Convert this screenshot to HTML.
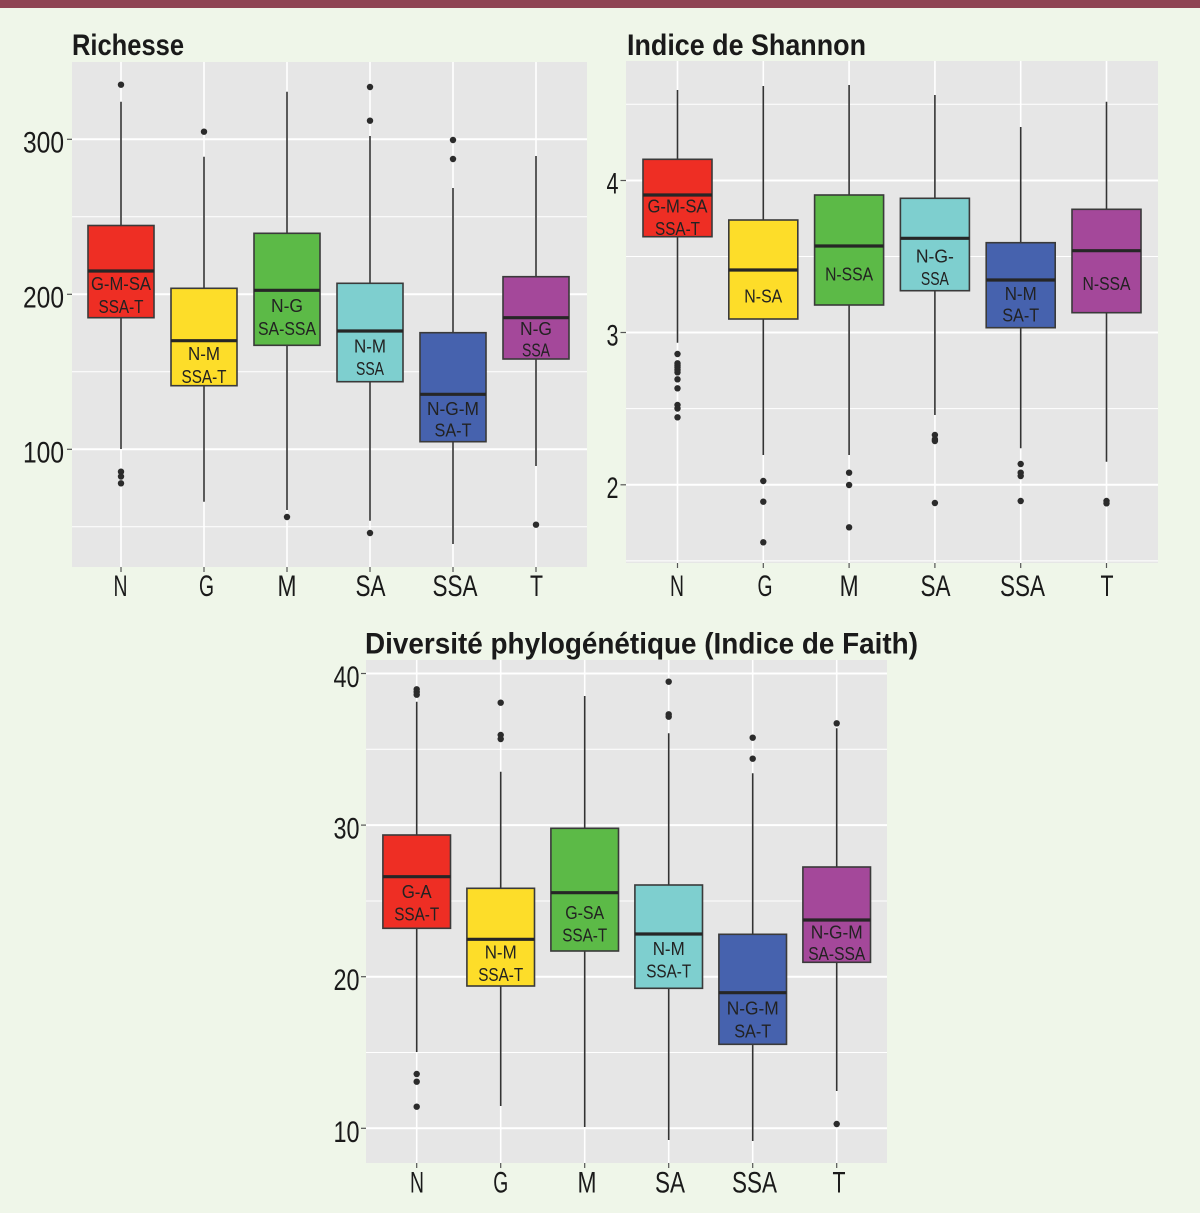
<!DOCTYPE html>
<html>
<head>
<meta charset="utf-8">
<style>
html,body{margin:0;padding:0;background:#eff6e9;}
svg{display:block;}
.wh{stroke:#333;stroke-width:1.6;}
.bx{stroke:#3a3a3a;stroke-width:1.6;}
.md{stroke:#262626;stroke-width:3.2;}
.gM{stroke:#fff;stroke-width:2;}
.gm{stroke:#fff;stroke-width:1;}
.gv{stroke:#fff;stroke-width:1.6;}
.tk{stroke:#555;stroke-width:1.2;}
.pt{fill:#2b2b2b;}
.bl{font-family:"Liberation Sans",sans-serif;font-size:18px;fill:#222;text-anchor:middle;}
.ax{font-family:"Liberation Sans",sans-serif;font-size:30px;fill:#1a1a1a;}
.axm{font-family:"Liberation Sans",sans-serif;font-size:30px;fill:#1a1a1a;text-anchor:middle;}
.ay{font-family:"Liberation Sans",sans-serif;font-size:30px;fill:#1a1a1a;text-anchor:end;}
.tt{font-family:"Liberation Sans",sans-serif;font-weight:bold;font-size:30px;fill:#1a1a1a;}
</style>
</head>
<body>
<svg width="1200" height="1213" viewBox="0 0 1200 1213" xmlns="http://www.w3.org/2000/svg">
<rect x="0" y="0" width="1200" height="1213" fill="#eff6e9"/>
<rect x="0" y="0" width="1200" height="8" fill="#8e4453"/>

<!-- ================= PANEL 1 : Richesse ================= -->
<text class="tt" x="72" y="55" textLength="112" lengthAdjust="spacingAndGlyphs">Richesse</text>
<rect x="72" y="62" width="515" height="505" fill="#e6e6e6"/>
<line class="gm" x1="72" x2="587" y1="216.8" y2="216.8"/>
<line class="gm" x1="72" x2="587" y1="371.8" y2="371.8"/>
<line class="gm" x1="72" x2="587" y1="526.8" y2="526.8"/>
<line class="gM" x1="72" x2="587" y1="139.3" y2="139.3"/>
<line class="gM" x1="72" x2="587" y1="294.3" y2="294.3"/>
<line class="gM" x1="72" x2="587" y1="449.3" y2="449.3"/>
<line class="gv" x1="121" x2="121" y1="62" y2="567"/>
<line class="gv" x1="204" x2="204" y1="62" y2="567"/>
<line class="gv" x1="287" x2="287" y1="62" y2="567"/>
<line class="gv" x1="370" x2="370" y1="62" y2="567"/>
<line class="gv" x1="453" x2="453" y1="62" y2="567"/>
<line class="gv" x1="536" x2="536" y1="62" y2="567"/>

<line class="wh" x1="121" x2="121" y1="101.7" y2="449"/>
<line class="wh" x1="204" x2="204" y1="156.7" y2="501.7"/>
<line class="wh" x1="287" x2="287" y1="91.7" y2="510"/>
<line class="wh" x1="370" x2="370" y1="136" y2="520.7"/>
<line class="wh" x1="453" x2="453" y1="188" y2="544"/>
<line class="wh" x1="536" x2="536" y1="156" y2="466"/>
<rect class="bx" x="88" y="225.5" width="66" height="92.2" fill="#ee2e24"/>
<rect class="bx" x="171" y="288.3" width="66" height="97.4" fill="#fddd29"/>
<rect class="bx" x="254" y="233.3" width="66" height="112" fill="#5cba47"/>
<rect class="bx" x="337" y="283.3" width="66" height="98.4" fill="#7ecfcf"/>
<rect class="bx" x="420" y="332.7" width="66" height="109" fill="#4662ae"/>
<rect class="bx" x="503" y="276.7" width="66" height="82.3" fill="#a4489a"/>
<line class="md" x1="88" x2="154" y1="271" y2="271"/>
<line class="md" x1="171" x2="237" y1="340.7" y2="340.7"/>
<line class="md" x1="254" x2="320" y1="290.3" y2="290.3"/>
<line class="md" x1="337" x2="403" y1="331" y2="331"/>
<line class="md" x1="420" x2="486" y1="394.3" y2="394.3"/>
<line class="md" x1="503" x2="569" y1="317.7" y2="317.7"/>
<text class="bl" x="121" y="290" textLength="60" lengthAdjust="spacingAndGlyphs">G-M-SA</text>
<text class="bl" x="121" y="313" textLength="45" lengthAdjust="spacingAndGlyphs">SSA-T</text>
<text class="bl" x="204" y="360" textLength="32" lengthAdjust="spacingAndGlyphs">N-M</text>
<text class="bl" x="204" y="383" textLength="45" lengthAdjust="spacingAndGlyphs">SSA-T</text>
<text class="bl" x="287" y="312" textLength="32" lengthAdjust="spacingAndGlyphs">N-G</text>
<text class="bl" x="287" y="335" textLength="58" lengthAdjust="spacingAndGlyphs">SA-SSA</text>
<text class="bl" x="370" y="352.7" textLength="32" lengthAdjust="spacingAndGlyphs">N-M</text>
<text class="bl" x="370" y="375" textLength="28" lengthAdjust="spacingAndGlyphs">SSA</text>
<text class="bl" x="453" y="415" textLength="52" lengthAdjust="spacingAndGlyphs">N-G-M</text>
<text class="bl" x="453" y="436.7" textLength="37" lengthAdjust="spacingAndGlyphs">SA-T</text>
<text class="bl" x="536" y="335" textLength="32" lengthAdjust="spacingAndGlyphs">N-G</text>
<text class="bl" x="536" y="356.7" textLength="28" lengthAdjust="spacingAndGlyphs">SSA</text>
<circle class="pt" cx="121" cy="84.7" r="3.2"/>
<circle class="pt" cx="121" cy="471.7" r="3.2"/>
<circle class="pt" cx="121" cy="476.5" r="3.2"/>
<circle class="pt" cx="121" cy="483.3" r="3.2"/>
<circle class="pt" cx="204" cy="131.7" r="3.2"/>
<circle class="pt" cx="287" cy="517" r="3.2"/>
<circle class="pt" cx="370" cy="87" r="3.2"/>
<circle class="pt" cx="370" cy="120.7" r="3.2"/>
<circle class="pt" cx="370" cy="533" r="3.2"/>
<circle class="pt" cx="453" cy="140" r="3.2"/>
<circle class="pt" cx="453" cy="159" r="3.2"/>
<circle class="pt" cx="536" cy="524.7" r="3.2"/>
<line class="tk" x1="67" x2="72" y1="139.3" y2="139.3"/>
<line class="tk" x1="67" x2="72" y1="294.3" y2="294.3"/>
<line class="tk" x1="67" x2="72" y1="449.3" y2="449.3"/>
<text class="ay" x="64" y="152.3" textLength="41" lengthAdjust="spacingAndGlyphs">300</text>
<text class="ay" x="64" y="307.3" textLength="41" lengthAdjust="spacingAndGlyphs">200</text>
<text class="ay" x="64" y="462.3" textLength="41" lengthAdjust="spacingAndGlyphs">100</text>
<line class="tk" x1="121" x2="121" y1="567" y2="572"/>
<line class="tk" x1="204" x2="204" y1="567" y2="572"/>
<line class="tk" x1="287" x2="287" y1="567" y2="572"/>
<line class="tk" x1="370" x2="370" y1="567" y2="572"/>
<line class="tk" x1="453" x2="453" y1="567" y2="572"/>
<line class="tk" x1="536" x2="536" y1="567" y2="572"/>
<text class="axm" x="120.5" y="596" textLength="14" lengthAdjust="spacingAndGlyphs">N</text>
<text class="axm" x="206.5" y="596" textLength="15" lengthAdjust="spacingAndGlyphs">G</text>
<text class="axm" x="287" y="596" textLength="19" lengthAdjust="spacingAndGlyphs">M</text>
<text class="axm" x="370.5" y="596" textLength="30" lengthAdjust="spacingAndGlyphs">SA</text>
<text class="axm" x="455" y="596" textLength="45" lengthAdjust="spacingAndGlyphs">SSA</text>
<text class="axm" x="536.5" y="596" textLength="13" lengthAdjust="spacingAndGlyphs">T</text>

<!-- ================= PANEL 2 : Shannon ================= -->
<text class="tt" x="627" y="55" textLength="239" lengthAdjust="spacingAndGlyphs">Indice de Shannon</text>
<rect x="626" y="61" width="532" height="502" fill="#e6e6e6"/>
<line class="gm" x1="626" x2="1158" y1="104.3" y2="104.3"/>
<line class="gm" x1="626" x2="1158" y1="256.5" y2="256.5"/>
<line class="gm" x1="626" x2="1158" y1="408.6" y2="408.6"/>
<line class="gm" x1="626" x2="1158" y1="560.9" y2="560.9"/>
<line class="gM" x1="626" x2="1158" y1="180.5" y2="180.5"/>
<line class="gM" x1="626" x2="1158" y1="332.5" y2="332.5"/>
<line class="gM" x1="626" x2="1158" y1="484.8" y2="484.8"/>
<line class="gv" x1="677.5" x2="677.5" y1="61" y2="563"/>
<line class="gv" x1="763.3" x2="763.3" y1="61" y2="563"/>
<line class="gv" x1="849.1" x2="849.1" y1="61" y2="563"/>
<line class="gv" x1="934.9" x2="934.9" y1="61" y2="563"/>
<line class="gv" x1="1020.7" x2="1020.7" y1="61" y2="563"/>
<line class="gv" x1="1106.5" x2="1106.5" y1="61" y2="563"/>

<line class="wh" x1="677.5" x2="677.5" y1="90" y2="342.7"/>
<line class="wh" x1="763.3" x2="763.3" y1="86" y2="455"/>
<line class="wh" x1="849.1" x2="849.1" y1="85" y2="455"/>
<line class="wh" x1="934.9" x2="934.9" y1="95" y2="415"/>
<line class="wh" x1="1020.7" x2="1020.7" y1="127" y2="448.3"/>
<line class="wh" x1="1106.5" x2="1106.5" y1="101.7" y2="461.7"/>

<rect class="bx" x="643" y="159.3" width="69" height="77.4" fill="#ee2e24"/>
<rect class="bx" x="728.8" y="220" width="69" height="99" fill="#fddd29"/>
<rect class="bx" x="814.6" y="195" width="69" height="110" fill="#5cba47"/>
<rect class="bx" x="900.4" y="198.3" width="69" height="92.4" fill="#7ecfcf"/>
<rect class="bx" x="986.2" y="242.7" width="69" height="85" fill="#4662ae"/>
<rect class="bx" x="1072" y="209.3" width="69" height="103.4" fill="#a4489a"/>

<line class="md" x1="643" x2="712" y1="195" y2="195"/>
<line class="md" x1="728.8" x2="797.8" y1="270" y2="270"/>
<line class="md" x1="814.6" x2="883.6" y1="246" y2="246"/>
<line class="md" x1="900.4" x2="969.4" y1="238.3" y2="238.3"/>
<line class="md" x1="986.2" x2="1055.2" y1="280" y2="280"/>
<line class="md" x1="1072" x2="1141" y1="250.7" y2="250.7"/>

<text class="bl" x="677.5" y="212.7" textLength="60" lengthAdjust="spacingAndGlyphs">G-M-SA</text>
<text class="bl" x="677.5" y="235" textLength="45" lengthAdjust="spacingAndGlyphs">SSA-T</text>
<text class="bl" x="763.3" y="302.7" textLength="38" lengthAdjust="spacingAndGlyphs">N-SA</text>
<text class="bl" x="849.1" y="280.7" textLength="48" lengthAdjust="spacingAndGlyphs">N-SSA</text>
<text class="bl" x="934.9" y="262.7" textLength="38" lengthAdjust="spacingAndGlyphs">N-G-</text>
<text class="bl" x="934.9" y="285" textLength="28" lengthAdjust="spacingAndGlyphs">SSA</text>
<text class="bl" x="1020.7" y="300" textLength="32" lengthAdjust="spacingAndGlyphs">N-M</text>
<text class="bl" x="1020.7" y="321.7" textLength="37" lengthAdjust="spacingAndGlyphs">SA-T</text>
<text class="bl" x="1106.5" y="290" textLength="48" lengthAdjust="spacingAndGlyphs">N-SSA</text>

<circle class="pt" cx="677.5" cy="354" r="3.2"/>
<circle class="pt" cx="677.5" cy="363.3" r="3.2"/>
<circle class="pt" cx="677.5" cy="365.5" r="3.2"/>
<circle class="pt" cx="677.5" cy="367.5" r="3.2"/>
<circle class="pt" cx="677.5" cy="370" r="3.2"/>
<circle class="pt" cx="677.5" cy="372.3" r="3.2"/>
<circle class="pt" cx="677.5" cy="379.3" r="3.2"/>
<circle class="pt" cx="677.5" cy="388.3" r="3.2"/>
<circle class="pt" cx="677.5" cy="405" r="3.2"/>
<circle class="pt" cx="677.5" cy="408.5" r="3.2"/>
<circle class="pt" cx="677.5" cy="417.3" r="3.2"/>
<circle class="pt" cx="763.3" cy="481" r="3.2"/>
<circle class="pt" cx="763.3" cy="501.7" r="3.2"/>
<circle class="pt" cx="763.3" cy="542.3" r="3.2"/>
<circle class="pt" cx="849.1" cy="472.7" r="3.2"/>
<circle class="pt" cx="849.1" cy="485" r="3.2"/>
<circle class="pt" cx="849.1" cy="527.3" r="3.2"/>
<circle class="pt" cx="934.9" cy="435" r="3.2"/>
<circle class="pt" cx="934.9" cy="439.3" r="3.2"/>
<circle class="pt" cx="934.9" cy="441" r="3.2"/>
<circle class="pt" cx="934.9" cy="503" r="3.2"/>
<circle class="pt" cx="1020.7" cy="464" r="3.2"/>
<circle class="pt" cx="1020.7" cy="472.7" r="3.2"/>
<circle class="pt" cx="1020.7" cy="476" r="3.2"/>
<circle class="pt" cx="1020.7" cy="501" r="3.2"/>
<circle class="pt" cx="1106.5" cy="501" r="3.2"/>
<circle class="pt" cx="1106.5" cy="503.3" r="3.2"/>

<line class="tk" x1="620.5" x2="626" y1="180.5" y2="180.5"/>
<line class="tk" x1="620.5" x2="626" y1="332.5" y2="332.5"/>
<line class="tk" x1="620.5" x2="626" y1="484.8" y2="484.8"/>
<text class="ay" x="618.5" y="193.5" textLength="12" lengthAdjust="spacingAndGlyphs">4</text>
<text class="ay" x="618.5" y="345.5" textLength="12" lengthAdjust="spacingAndGlyphs">3</text>
<text class="ay" x="618.5" y="497.8" textLength="12" lengthAdjust="spacingAndGlyphs">2</text>
<line class="tk" x1="677.5" x2="677.5" y1="563" y2="568"/>
<line class="tk" x1="763.3" x2="763.3" y1="563" y2="568"/>
<line class="tk" x1="849.1" x2="849.1" y1="563" y2="568"/>
<line class="tk" x1="934.9" x2="934.9" y1="563" y2="568"/>
<line class="tk" x1="1020.7" x2="1020.7" y1="563" y2="568"/>
<line class="tk" x1="1106.5" x2="1106.5" y1="563" y2="568"/>
<text class="axm" x="677" y="596" textLength="14" lengthAdjust="spacingAndGlyphs">N</text>
<text class="axm" x="765" y="596" textLength="15" lengthAdjust="spacingAndGlyphs">G</text>
<text class="axm" x="849.1" y="596" textLength="19" lengthAdjust="spacingAndGlyphs">M</text>
<text class="axm" x="935.5" y="596" textLength="30" lengthAdjust="spacingAndGlyphs">SA</text>
<text class="axm" x="1022.5" y="596" textLength="45" lengthAdjust="spacingAndGlyphs">SSA</text>
<text class="axm" x="1107" y="596" textLength="13" lengthAdjust="spacingAndGlyphs">T</text>

<!-- ================= PANEL 3 : Faith ================= -->
<text class="tt" x="365" y="653.3" textLength="553" lengthAdjust="spacingAndGlyphs">Diversité phylogénétique (Indice de Faith)</text>
<rect x="366" y="660" width="521" height="503" fill="#e6e6e6"/>
<line class="gm" x1="366" x2="887" y1="749.3" y2="749.3"/>
<line class="gm" x1="366" x2="887" y1="901" y2="901"/>
<line class="gm" x1="366" x2="887" y1="1052.5" y2="1052.5"/>
<line class="gM" x1="366" x2="887" y1="673.5" y2="673.5"/>
<line class="gM" x1="366" x2="887" y1="825.1" y2="825.1"/>
<line class="gM" x1="366" x2="887" y1="976.7" y2="976.7"/>
<line class="gM" x1="366" x2="887" y1="1128.3" y2="1128.3"/>
<line class="gv" x1="416.7" x2="416.7" y1="660" y2="1163"/>
<line class="gv" x1="500.7" x2="500.7" y1="660" y2="1163"/>
<line class="gv" x1="584.7" x2="584.7" y1="660" y2="1163"/>
<line class="gv" x1="668.7" x2="668.7" y1="660" y2="1163"/>
<line class="gv" x1="752.7" x2="752.7" y1="660" y2="1163"/>
<line class="gv" x1="836.7" x2="836.7" y1="660" y2="1163"/>

<line class="wh" x1="416.7" x2="416.7" y1="701.7" y2="1052"/>
<line class="wh" x1="500.7" x2="500.7" y1="771.7" y2="1106"/>
<line class="wh" x1="584.7" x2="584.7" y1="696" y2="1127"/>
<line class="wh" x1="668.7" x2="668.7" y1="733.3" y2="1140"/>
<line class="wh" x1="752.7" x2="752.7" y1="773.3" y2="1141"/>
<line class="wh" x1="836.7" x2="836.7" y1="728.3" y2="1091"/>

<rect class="bx" x="382.9" y="835" width="67.6" height="93.3" fill="#ee2e24"/>
<rect class="bx" x="466.9" y="888.3" width="67.6" height="97.7" fill="#fddd29"/>
<rect class="bx" x="550.9" y="828.3" width="67.6" height="122.7" fill="#5cba47"/>
<rect class="bx" x="634.9" y="885" width="67.6" height="103.3" fill="#7ecfcf"/>
<rect class="bx" x="718.9" y="934.3" width="67.6" height="110" fill="#4662ae"/>
<rect class="bx" x="802.9" y="867" width="67.6" height="95.3" fill="#a4489a"/>

<line class="md" x1="382.9" x2="450.5" y1="876.7" y2="876.7"/>
<line class="md" x1="466.9" x2="534.5" y1="939.3" y2="939.3"/>
<line class="md" x1="550.9" x2="618.5" y1="892.7" y2="892.7"/>
<line class="md" x1="634.9" x2="702.5" y1="934" y2="934"/>
<line class="md" x1="718.9" x2="786.5" y1="992.7" y2="992.7"/>
<line class="md" x1="802.9" x2="870.5" y1="920" y2="920"/>

<text class="bl" x="416.7" y="898" textLength="30" lengthAdjust="spacingAndGlyphs">G-A</text>
<text class="bl" x="416.7" y="920.7" textLength="45" lengthAdjust="spacingAndGlyphs">SSA-T</text>
<text class="bl" x="500.7" y="958.3" textLength="32" lengthAdjust="spacingAndGlyphs">N-M</text>
<text class="bl" x="500.7" y="981" textLength="45" lengthAdjust="spacingAndGlyphs">SSA-T</text>
<text class="bl" x="584.7" y="919" textLength="39" lengthAdjust="spacingAndGlyphs">G-SA</text>
<text class="bl" x="584.7" y="941.7" textLength="45" lengthAdjust="spacingAndGlyphs">SSA-T</text>
<text class="bl" x="668.7" y="955" textLength="32" lengthAdjust="spacingAndGlyphs">N-M</text>
<text class="bl" x="668.7" y="977.3" textLength="45" lengthAdjust="spacingAndGlyphs">SSA-T</text>
<text class="bl" x="752.7" y="1014.3" textLength="52" lengthAdjust="spacingAndGlyphs">N-G-M</text>
<text class="bl" x="752.7" y="1037.3" textLength="37" lengthAdjust="spacingAndGlyphs">SA-T</text>
<text class="bl" x="836.7" y="938.3" textLength="52" lengthAdjust="spacingAndGlyphs">N-G-M</text>
<text class="bl" x="836.7" y="960" textLength="57" lengthAdjust="spacingAndGlyphs">SA-SSA</text>

<circle class="pt" cx="416.7" cy="689.3" r="3.2"/>
<circle class="pt" cx="416.7" cy="692" r="3.2"/>
<circle class="pt" cx="416.7" cy="694.7" r="3.2"/>
<circle class="pt" cx="416.7" cy="1074" r="3.2"/>
<circle class="pt" cx="416.7" cy="1081.7" r="3.2"/>
<circle class="pt" cx="416.7" cy="1106.7" r="3.2"/>
<circle class="pt" cx="500.7" cy="702.7" r="3.2"/>
<circle class="pt" cx="500.7" cy="735" r="3.2"/>
<circle class="pt" cx="500.7" cy="739" r="3.2"/>
<circle class="pt" cx="668.7" cy="681.7" r="3.2"/>
<circle class="pt" cx="668.7" cy="714.3" r="3.2"/>
<circle class="pt" cx="668.7" cy="716.7" r="3.2"/>
<circle class="pt" cx="752.7" cy="737.7" r="3.2"/>
<circle class="pt" cx="752.7" cy="758.7" r="3.2"/>
<circle class="pt" cx="836.7" cy="723.3" r="3.2"/>
<circle class="pt" cx="836.7" cy="1124" r="3.2"/>

<line class="tk" x1="361" x2="366" y1="673.5" y2="673.5"/>
<line class="tk" x1="361" x2="366" y1="825.1" y2="825.1"/>
<line class="tk" x1="361" x2="366" y1="976.7" y2="976.7"/>
<line class="tk" x1="361" x2="366" y1="1128.3" y2="1128.3"/>
<text class="ay" x="359.5" y="687" textLength="26" lengthAdjust="spacingAndGlyphs">40</text>
<text class="ay" x="359.5" y="838.6" textLength="26" lengthAdjust="spacingAndGlyphs">30</text>
<text class="ay" x="359.5" y="990.2" textLength="26" lengthAdjust="spacingAndGlyphs">20</text>
<text class="ay" x="359.5" y="1141.8" textLength="26" lengthAdjust="spacingAndGlyphs">10</text>
<line class="tk" x1="416.7" x2="416.7" y1="1163" y2="1168"/>
<line class="tk" x1="500.7" x2="500.7" y1="1163" y2="1168"/>
<line class="tk" x1="584.7" x2="584.7" y1="1163" y2="1168"/>
<line class="tk" x1="668.7" x2="668.7" y1="1163" y2="1168"/>
<line class="tk" x1="752.7" x2="752.7" y1="1163" y2="1168"/>
<line class="tk" x1="836.7" x2="836.7" y1="1163" y2="1168"/>
<text class="axm" x="417" y="1192.5" textLength="14" lengthAdjust="spacingAndGlyphs">N</text>
<text class="axm" x="500.7" y="1192.5" textLength="15" lengthAdjust="spacingAndGlyphs">G</text>
<text class="axm" x="587" y="1192.5" textLength="19" lengthAdjust="spacingAndGlyphs">M</text>
<text class="axm" x="670" y="1192.5" textLength="30" lengthAdjust="spacingAndGlyphs">SA</text>
<text class="axm" x="754.5" y="1192.5" textLength="45" lengthAdjust="spacingAndGlyphs">SSA</text>
<text class="axm" x="839" y="1192.5" textLength="13" lengthAdjust="spacingAndGlyphs">T</text>
</svg>
</body>
</html>
